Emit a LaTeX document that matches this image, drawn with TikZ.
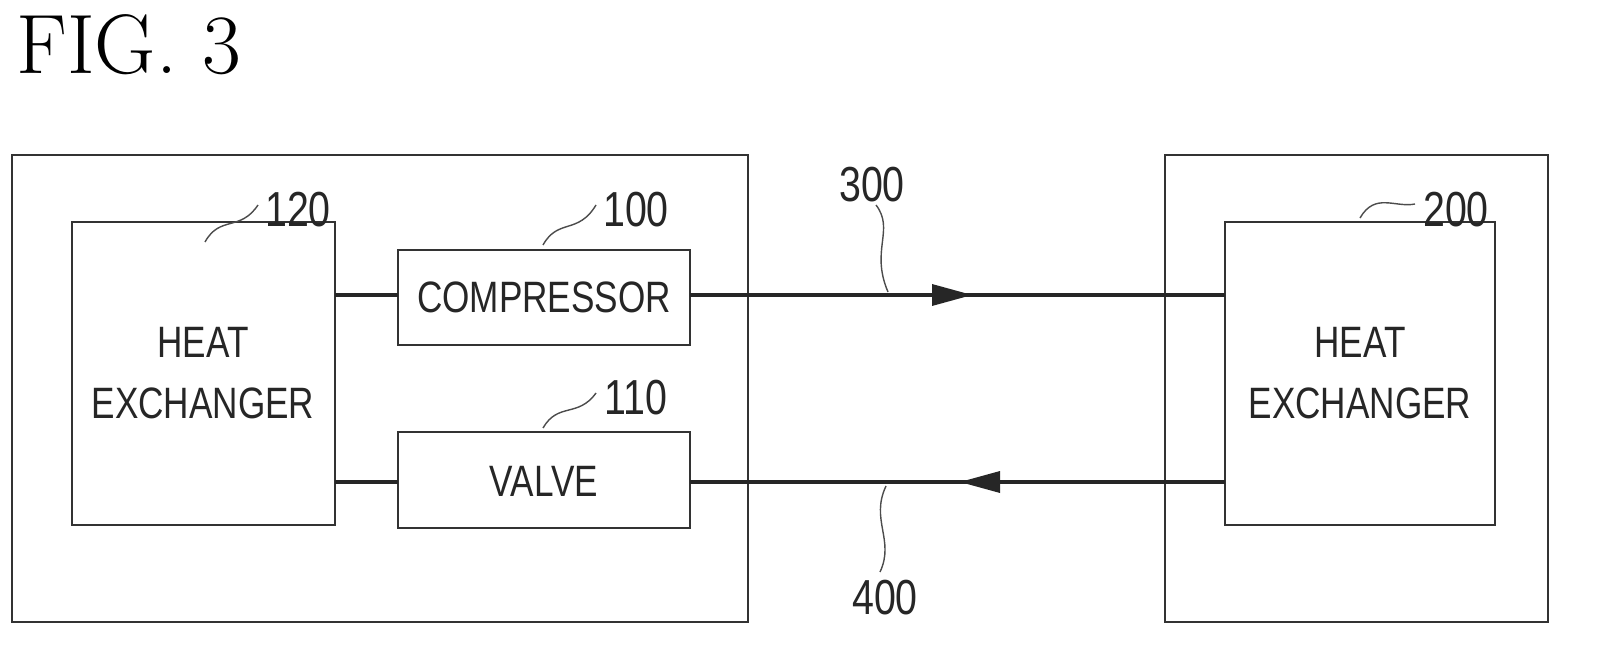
\documentclass[tikz,border=0pt]{standalone}
\usepackage{fontspec}
\setsansfont{Liberation Sans}[FakeStretch=0.8]
\usetikzlibrary{arrows.meta}
\begin{document}
\begin{tikzpicture}[x=0.02cm,y=-0.02cm]
\tikzset{
  blk/.style={draw=black!80, line width=0.8pt},
  pipe/.style={draw=black!85, line width=2.2pt},
  lbl/.style={font=\sffamily\fontsize{25}{25}\selectfont, inner sep=0pt, text=black!85},
  num/.style={font=\sffamily\fontsize{28}{28}\selectfont, inner sep=0pt, text=black!85},
  lead/.style={draw=black!70, line width=0.8pt}
}
\useasboundingbox (0,0) rectangle (1598,648);
% title
\node[font=\fontsize{48}{48}\selectfont, anchor=west, inner sep=0pt] (title) at (16,45) {FIG. 3};
% outer units
\draw[blk] (12,155) rectangle (748,622);
\draw[blk] (1165,155) rectangle (1548,622);
% components
\draw[blk] (72,222) rectangle (335,525);
\node[lbl, align=center] (hxl) at (203,373) {HEAT\\[10pt]EXCHANGER};
\draw[blk] (398,250) rectangle (690,345);
\node[lbl] (comp) at (544,297) {COMPRESSOR};
\draw[blk] (398,432) rectangle (690,528);
\node[lbl] (valve) at (544,481) {VALVE};
\draw[blk] (1225,222) rectangle (1495,525);
\node[lbl, align=center] (hxr) at (1360,373) {HEAT\\[10pt]EXCHANGER};
% pipes
\draw[pipe] (335,295) -- (398,295);
\draw[pipe] (690,295) -- (1225,295);
\draw[pipe] (335,482) -- (398,482);
\draw[pipe] (690,482) -- (1225,482);
\fill[black!85] (932,284) -- (972,295) -- (932,306) -- cycle;
\fill[black!85] (1000,471) -- (960,482) -- (1000,493) -- cycle;
% reference numerals
\node[num] (n120) at (298,210) {120};
\draw[lead] (205,242) .. controls (220,215) and (240,232) .. (258,205);
\node[num] (n100) at (636,210) {100};
\draw[lead] (543,245) .. controls (558,218) and (578,235) .. (596,205);
\node[num] (n110) at (636,398) {110};
\draw[lead] (543,428) .. controls (558,402) and (578,418) .. (596,393);
\node[num] (n200) at (1456,210) {200};
\draw[lead] (1360,218) .. controls (1375,192) and (1395,208) .. (1415,204);
\node[num] (n300) at (872,185) {300};
\draw[lead] (876,205) .. controls (895,230) and (870,250) .. (888,292);
\node[num] (n400) at (885,598) {400};
\draw[lead] (886,486) .. controls (870,520) and (895,540) .. (880,572);
\end{tikzpicture}
\end{document}
